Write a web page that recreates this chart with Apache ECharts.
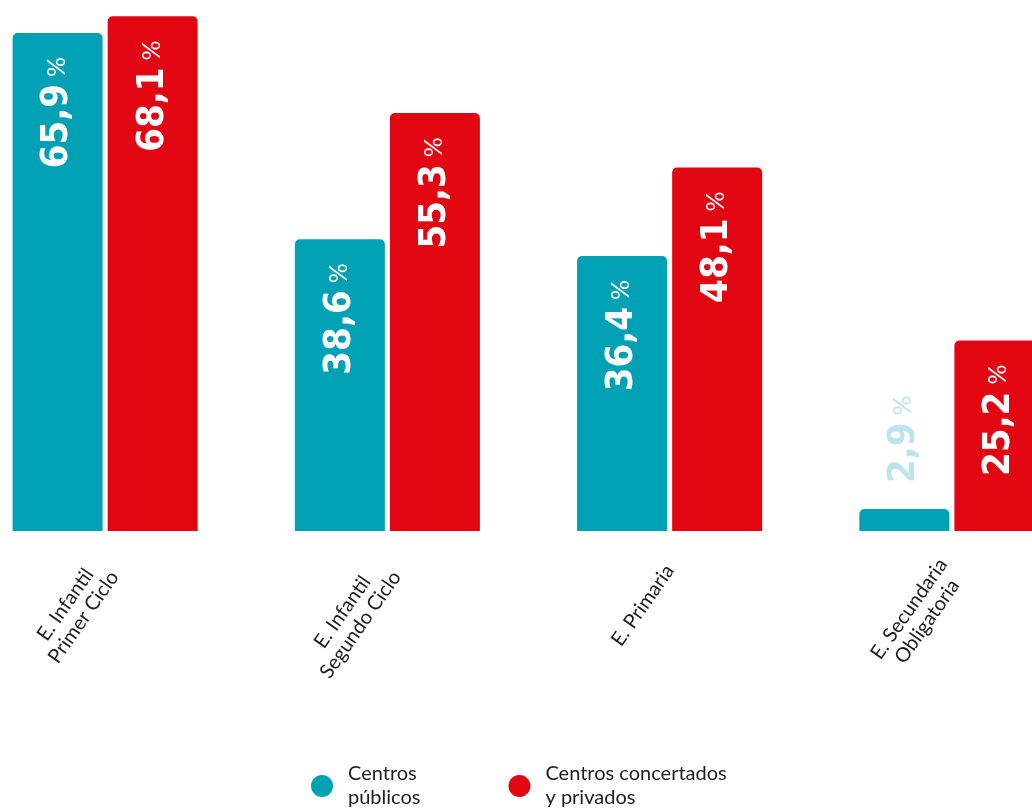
<!DOCTYPE html>
<html>
<head>
<meta charset="utf-8">
<script src="https://cdn.jsdelivr.net/npm/echarts@6/dist/echarts.min.js"></script>
<style>
  html, body { margin: 0; padding: 0; background: #fff; overflow: hidden; width: 1032px; height: 808px; position: relative; }
  /* el grid sobresale por los lados: la última barra queda cortada */
  #chart { position: absolute; left: -36px; top: 0; width: 1129px; height: 808px; }
</style>
</head>
<body>
<div id="chart"></div>
<script>
  // datos
  const categorias = ['E. Infantil\nPrimer Ciclo', 'E. Infantil\nSegundo Ciclo', 'E. Primaria', 'E. Secundaria\nObligatoria'];
  const publicos = [65.9, 38.6, 36.4, 2.9];
  const concertados = [68.1, 55.3, 48.1, 25.2];
  const nombres = ['Centros\npúblicos', 'Centros concertados\ny privados'];

  const TEAL = '#00a0b5';
  const RED = '#e20613';
  const numFont = "'Liberation Sans Narrow', 'DejaVu Sans Condensed', sans-serif";
  const txtFont = "Lato, 'Noto Sans', sans-serif";

  function fmt(v) {
    return '{n|' + v.toFixed(1).replace('.', ',') + '}{p|%}';
  }

  function rich(color) {
    return {
      n: { fontFamily: numFont, fontWeight: 'bold', fontSize: 38, color: color },
      p: { fontFamily: txtFont, fontSize: 25, color: color, padding: [0, 0, 2, 7] }
    };
  }

  // barras cortas: etiqueta fuera, en azul claro
  function datos(valores) {
    return valores.map(function (v) {
      if (v < 10) {
        return {
          value: v,
          label: {
            position: 'top', align: 'left', distance: 26,
            rich: rich('#bde3ec')
          }
        };
      }
      return v;
    });
  }

  function serie(nombre, valores, color) {
    return {
      name: nombre,
      type: 'bar',
      barWidth: 90,
      barGap: '5.6%',
      itemStyle: { color: color, borderRadius: [5, 5, 0, 0] },
      label: {
        show: true,
        position: 'insideTop',
        rotate: 90,
        align: 'right',
        verticalAlign: 'middle',
        distance: 24,
        formatter: function (p) { return fmt(p.value); },
        rich: rich('#ffffff')
      },
      data: datos(valores)
    };
  }

  const chart = echarts.init(document.getElementById('chart'));
  chart.setOption({
    backgroundColor: '#ffffff',
    animation: false,
    grid: { left: 0, right: 0, top: 2, bottom: 277, containLabel: false },
    legend: {
      left: 347,
      top: 762,
      padding: 0,
      icon: 'circle',
      itemWidth: 22,
      itemHeight: 22,
      itemGap: 88,
      textStyle: { fontFamily: txtFont, fontSize: 20, lineHeight: 24, color: '#1d1d1b', padding: [0, 0, 0, 10] },
      data: nombres
    },
    xAxis: {
      type: 'category',
      data: categorias,
      axisLine: { show: false },
      axisTick: { show: false },
      axisLabel: {
        interval: 0,
        rotate: 55,
        margin: 36,
        // líneas centradas entre sí
        formatter: function (v) {
          return v.split('\n').map(function (l) { return '{c|' + l + '}'; }).join('\n');
        },
        rich: {
          c: { align: 'center', fontFamily: txtFont, fontSize: 20, lineHeight: 22, color: '#1d1d1b' }
        }
      }
    },
    yAxis: {
      type: 'value',
      min: 0,
      max: 70,
      show: false,
      splitLine: { show: false }
    },
    series: [
      serie(nombres[0], publicos, TEAL),
      serie(nombres[1], concertados, RED)
    ]
  });
</script>
</body>
</html>
